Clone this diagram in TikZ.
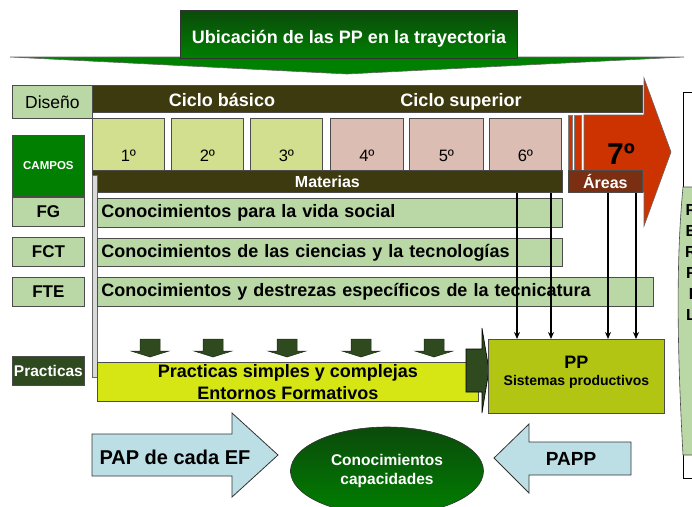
\documentclass[tikz,border=0pt]{standalone}
\usepackage{fontspec}
\setmainfont{Liberation Sans}
\usetikzlibrary{arrows.meta,shapes.geometric}
\definecolor{bandark}{HTML}{0B4A0B}
\definecolor{banlight}{HTML}{008000}
\definecolor{olivebar}{HTML}{3D3A10}
\definecolor{sage}{HTML}{B9D8A6}
\definecolor{yearlight}{HTML}{D2DF8E}
\definecolor{yearpink}{HTML}{DCBDB3}
\definecolor{brick}{HTML}{CC3300}
\definecolor{areabrown}{HTML}{7A2F12}
\definecolor{campgreen}{HTML}{007F00}
\definecolor{mossdark}{HTML}{2F4A1F}
\definecolor{limebar}{HTML}{D5E614}
\definecolor{ppolive}{HTML}{B1C512}
\definecolor{paleblue}{HTML}{BCDFE5}
\begin{document}
\begin{tikzpicture}[x=1pt, y=-1pt,
    box/.style={draw=black!70, line width=0.8pt, inner sep=0pt, anchor=north west},
    bartext/.style={box, fill=sage, inner xsep=4pt, align=left, font=\fontsize{18}{20}\selectfont\bfseries},
    yearbox/.style={box, minimum width=72, minimum height=52},
    yeartext/.style={font=\fontsize{16.5}{18}\selectfont, inner sep=0pt},
    fieldbox/.style={box, fill=sage, minimum width=72, minimum height=29, font=\fontsize{17}{19}\selectfont\bfseries},
    darrow/.style={fill=mossdark, draw=mossdark!60!black, line width=0.5pt},
    bigarrow/.style={fill=paleblue, draw=black!80, line width=0.8pt},
    feed/.style={-{Stealth[length=7pt,width=6pt]}, line width=1.3pt}]
    \useasboundingbox (0,0) rectangle (692,506);

    \filldraw [fill=banlight, draw=black!60, line width=0.6pt] (10,57) -- (684,57) -- (347,74) -- cycle;
    \node [box, draw=black!80, top color=bandark, bottom color=banlight, minimum width=337, minimum height=48] (banner) at (180,10) {};
    \node [text=white, font=\fontsize{18}{20}\selectfont\bfseries] (title) at (349,39) {Ubicación de las PP en la trayectoria};

    \node [box, fill=sage, minimum width=80, minimum height=33, font=\fontsize{17.5}{19}\selectfont] (diseno) at (12,85) {Diseño};
    \filldraw [fill=brick, draw=black!60, line width=0.6pt] (584,115) -- (644,115) -- (644,78) -- (671,152) -- (644,226) -- (644,192) -- (584,192) -- cycle;
    \node [box, fill=olivebar, minimum width=550, minimum height=27] (ciclo) at (92,85) {};
    \node [anchor=base, text=white, font=\fontsize{18}{20}\selectfont\bfseries] (basico) at (222,106) {Ciclo básico};
    \node [anchor=base, text=white, font=\fontsize{18}{20}\selectfont\bfseries] (superior) at (461,106) {Ciclo superior};
    \filldraw [fill=brick, draw=black!50, line width=0.4pt] (568,115) rectangle (572,170);
    \filldraw [fill=brick, draw=black!50, line width=0.4pt] (574,115) rectangle (581,170);

    \node [yearbox, fill=yearlight] (y1) at (92,118) {};
    \node [yearbox, fill=yearlight] (y2) at (171,118) {};
    \node [yearbox, fill=yearlight] (y3) at (250,118) {};
    \node [yearbox, fill=yearpink, minimum width=73] (y4) at (330,118) {};
    \node [yearbox, fill=yearpink, minimum width=74] (y5) at (409,118) {};
    \node [yearbox, fill=yearpink] (y6) at (489,118) {};
    \node [yeartext, above=9pt] (n1) at (y1.south) {1º};
    \node [yeartext, above=9pt] (n2) at (y2.south) {2º};
    \node [yeartext, above=9pt] (n3) at (y3.south) {3º};
    \node [yeartext, above=9pt] (n4) at (y4.south) {4º};
    \node [yeartext, above=9pt] (n5) at (y5.south) {5º};
    \node [yeartext, above=9pt] (n6) at (y6.south) {6º};
    \node [font=\fontsize{30}{32}\selectfont\bfseries] (seventh) at (621,154) {7º};

    \node [box, fill=olivebar, minimum width=470, minimum height=22, text=white, font=\fontsize{16}{18}\selectfont\bfseries] (materias) at (92,170) {Materias};
    \node [box, fill=areabrown, minimum width=74, minimum height=22, text=white, font=\fontsize{16}{18}\selectfont\bfseries] (areas) at (568,170) {Áreas};
    \node [box, fill=black!15, draw=black!60, minimum width=5, minimum height=202] (rail) at (92,175) {};

    \node [box, fill=campgreen, minimum width=72, minimum height=61, text=white, font=\fontsize{11.5}{13}\selectfont\bfseries] (campos) at (12,135) {CAMPOS};
    \node [fieldbox] (fg) at (12,197) {FG};
    \node [fieldbox] (fct) at (12,237) {FCT};
    \node [fieldbox] (fte) at (12,277) {FTE};
    \node [box, fill=mossdark, minimum width=72, minimum height=29, text=white, font=\fontsize{15.5}{17}\selectfont\bfseries] (practlab) at (12,356) {Practicas};

    \node [bartext, text width=457, minimum height=29] (social) at (97,198) {Conocimientos para la vida social};
    \node [bartext, text width=457, minimum height=28] (ciencias) at (97,238) {Conocimientos de las ciencias y la tecnologías};
    \node [bartext, text width=548, minimum height=29] (tecnica) at (97,277) {Conocimientos y destrezas específicos de la tecnicatura};

    \node [box, fill=limebar, minimum width=381, minimum height=39, align=center, font=\fontsize{18}{22}\selectfont\bfseries] (simples) at (97,362) {Practicas simples y complejas\\Entornos Formativos};
    \filldraw [darrow, shift={(150,0)}] (-10,339) -- (10,339) -- (10,351) -- (19,351) -- (0,357) -- (-19,351) -- (-10,351) -- cycle;
    \filldraw [darrow, shift={(213,0)}] (-10,339) -- (10,339) -- (10,351) -- (19,351) -- (0,357) -- (-19,351) -- (-10,351) -- cycle;
    \filldraw [darrow, shift={(287,0)}] (-10,339) -- (10,339) -- (10,351) -- (19,351) -- (0,357) -- (-19,351) -- (-10,351) -- cycle;
    \filldraw [darrow, shift={(361,0)}] (-10,339) -- (10,339) -- (10,351) -- (19,351) -- (0,357) -- (-19,351) -- (-10,351) -- cycle;
    \filldraw [darrow, shift={(434,0)}] (-10,339) -- (10,339) -- (10,351) -- (19,351) -- (0,357) -- (-19,351) -- (-10,351) -- cycle;

    \filldraw [fill=mossdark, draw=black, line width=0.6pt] (466,349) -- (482,349) -- (482,328) -- (489,370) -- (482,413) -- (482,392) -- (466,392) -- cycle;
    \node [box, fill=ppolive, minimum width=176, minimum height=74, align=center, font=\fontsize{14}{17}\selectfont\bfseries] (pp) at (488,339) {{\fontsize{18}{20}\selectfont PP}\\Sistemas productivos\\[-6pt]\mbox{}};

    \coordinate (c1) at (517,0);
    \coordinate (c2) at (551,0);
    \coordinate (c3) at (608,0);
    \coordinate (c4) at (636,0);
    \draw [feed] (materias.south -| c1) -- (pp.north -| c1);
    \draw [feed] (materias.south -| c2) -- (pp.north -| c2);
    \draw [feed] (areas.south -| c3) -- (pp.north -| c3);
    \draw [feed] (areas.south -| c4) -- (pp.north -| c4);

    \filldraw [bigarrow] (92,434) -- (232,434) -- (232,413) -- (278,455) -- (232,497) -- (232,476) -- (92,476) -- cycle;
    \node [anchor=west, font=\fontsize{20}{22}\selectfont\bfseries] (pap) at (96,457) {PAP de cada EF};
    \node [ellipse, draw=black!80, line width=0.6pt, top color=bandark, bottom color=banlight, minimum width=193, minimum height=88, text=white, align=center, font=\fontsize{15.5}{19}\selectfont\bfseries] (saberes) at (387,471) {Conocimientos\\capacidades};
    \filldraw [bigarrow] (494,458) -- (529,424) -- (529,442) -- (631,442) -- (631,475) -- (529,475) -- (529,493) -- cycle;
    \node [font=\fontsize{19}{21}\selectfont\bfseries] (papp) at (571,459) {PAPP};

    \begin{scope}
        \clip (600,0) rectangle (692,506);
        \filldraw [fill=white, draw=black, line width=0.6pt] (683,92) rectangle (720,478);
        \filldraw [fill=sage, draw=black!70, line width=0.6pt] (683,187) .. controls (677,250) and (676,330) .. (683,455) -- (720,455) -- (720,187) -- cycle;
        \node [align=center, font=\fontsize{16}{21}\selectfont\bfseries] (perfil) at (691,262) {P\\E\\R\\F\\I\\L};
    \end{scope}
\end{tikzpicture}
\end{document}
